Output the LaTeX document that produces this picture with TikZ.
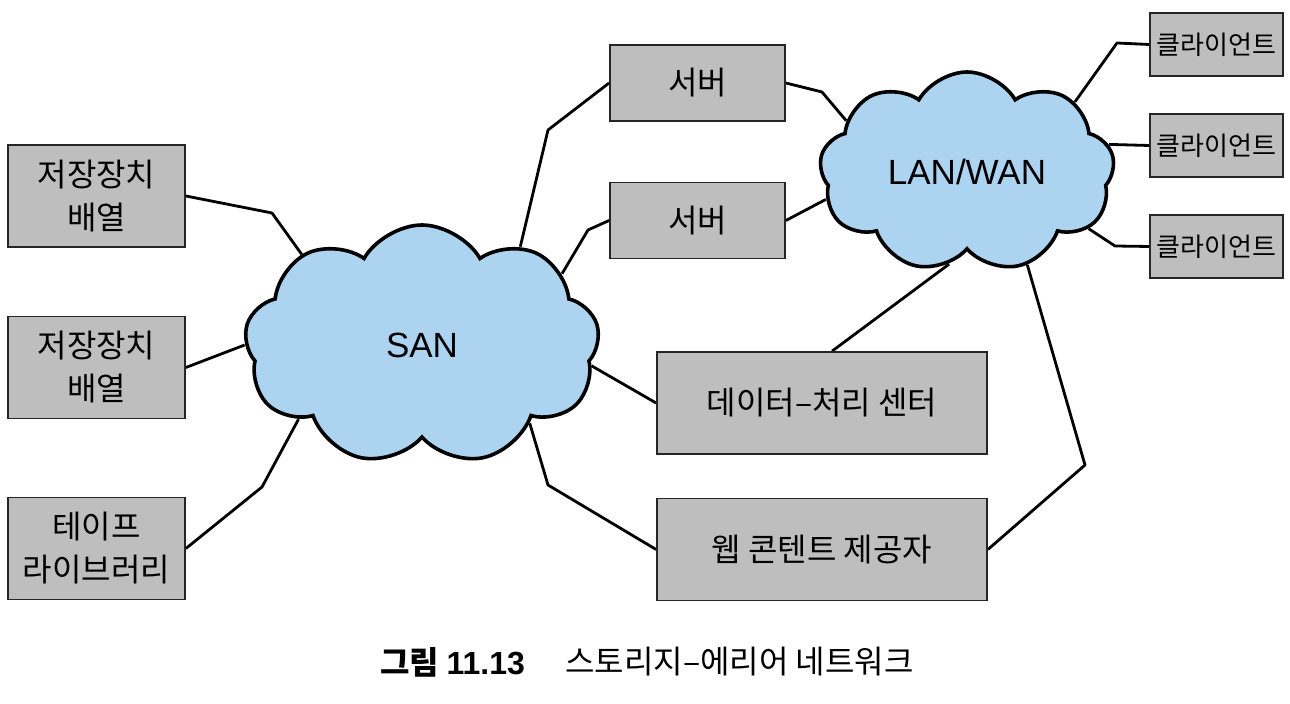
\documentclass[tikz,border=0pt]{standalone}
\usepackage{fontspec}
\newfontfamily\kr{Noto Sans CJK KR}
\newfontfamily\lat{Liberation Sans}
\usetikzlibrary{shapes.symbols,backgrounds}
\definecolor{boxgray}{RGB}{190,190,190}
\definecolor{cloudblue}{RGB}{172,212,240}
\begin{document}
\begin{tikzpicture}[x=0.5pt,y=-0.5pt,
  box/.style={draw=black!85, line width=0.9pt, fill=boxgray, align=center, inner sep=0pt,
    font=\kr\fontsize{16}{21.5}\selectfont},
  bigbox/.style={box, minimum width=88.5pt, minimum height=51pt},
  srvbox/.style={box, minimum width=87.5pt, minimum height=38pt},
  clbox/.style={box, minimum width=66.5pt, minimum height=31.5pt, font=\kr\fontsize{13}{15}\selectfont},
  widebox/.style={box, minimum width=165pt, minimum height=51pt},
  net/.style={cloud, cloud puffs=9, cloud puff arc=120, cloud ignores aspect, draw=black,
    line width=1.8pt, fill=cloudblue, inner sep=0pt, font=\lat\fontsize{17.5}{20}\selectfont},
  link/.style={line width=1.4pt, line join=round}]
\useasboundingbox (0,0) rectangle (1290,704);
% storage side
\node[bigbox] (sa1) at (96.5,196) {저장장치\\배열};
\node[bigbox] (sa2) at (96.5,367.5) {저장장치\\배열};
\node[bigbox] (tape) at (96.5,548.5) {테이프\\라이브러리};
% clouds
\node[net, minimum width=177.5pt, minimum height=120pt] (san) at (422,345) {SAN};
\node[net, minimum width=147.5pt, minimum height=100pt] (lan) at (967,172) {LAN/WAN};
% servers
\node[srvbox] (srv1) at (697.5,83) {서버};
\node[srvbox] (srv2) at (697.5,220.5) {서버};
% clients
\node[clbox] (cl1) at (1216.5,44.5) {클라이언트};
\node[clbox] (cl2) at (1216.5,145.5) {클라이언트};
\node[clbox] (cl3) at (1216.5,246.5) {클라이언트};
% centers
\node[widebox] (dpc) at (822,403) {데이터–처리 센터};
\node[widebox] (web) at (822,549.5) {웹 콘텐트 제공자};
% caption
\node[anchor=west, inner sep=0pt, font=\kr\bfseries\fontsize{16}{18}\selectfont] (cap1) at (380,662) {그림 {\lat\bfseries 11.13}};
\node[anchor=west, inner sep=0pt, font=\kr\fontsize{16}{18}\selectfont] (cap2) at (565,662) {스토리지–에리어 네트워크};
% connectors
\begin{pgfonlayer}{background}
\draw[link] (sa1.east) -- (272,213) -- (san.143);
\draw[link] (sa2.east) -- (san.180);
\draw[link] (tape.east) -- (262,487) -- (san.211);
\draw[link] (san.45) -- (548,130) -- (srv1.west);
\draw[link] (san.27) -- (588,230) -- (srv2.west);
\draw[link] (srv1.east) -- (822,92) -- (lan.157);
\draw[link] (srv2.east) -- (lan.191);
\draw[link] (lan.33) -- (1117,43) -- (cl1.west);
\draw[link] (lan.11.5) -- (cl2.west);
\draw[link] (lan.335) -- (1115,246) -- (cl3.west);
\draw[link] (lan.259) -- (dpc.79);
\draw[link] (lan.303) -- (1085,465) -- (web.east);
\draw[link] (san.353) -- (dpc.west);
\draw[link] (san.324) -- (548,485) -- (web.west);
\end{pgfonlayer}
\end{tikzpicture}
\end{document}
